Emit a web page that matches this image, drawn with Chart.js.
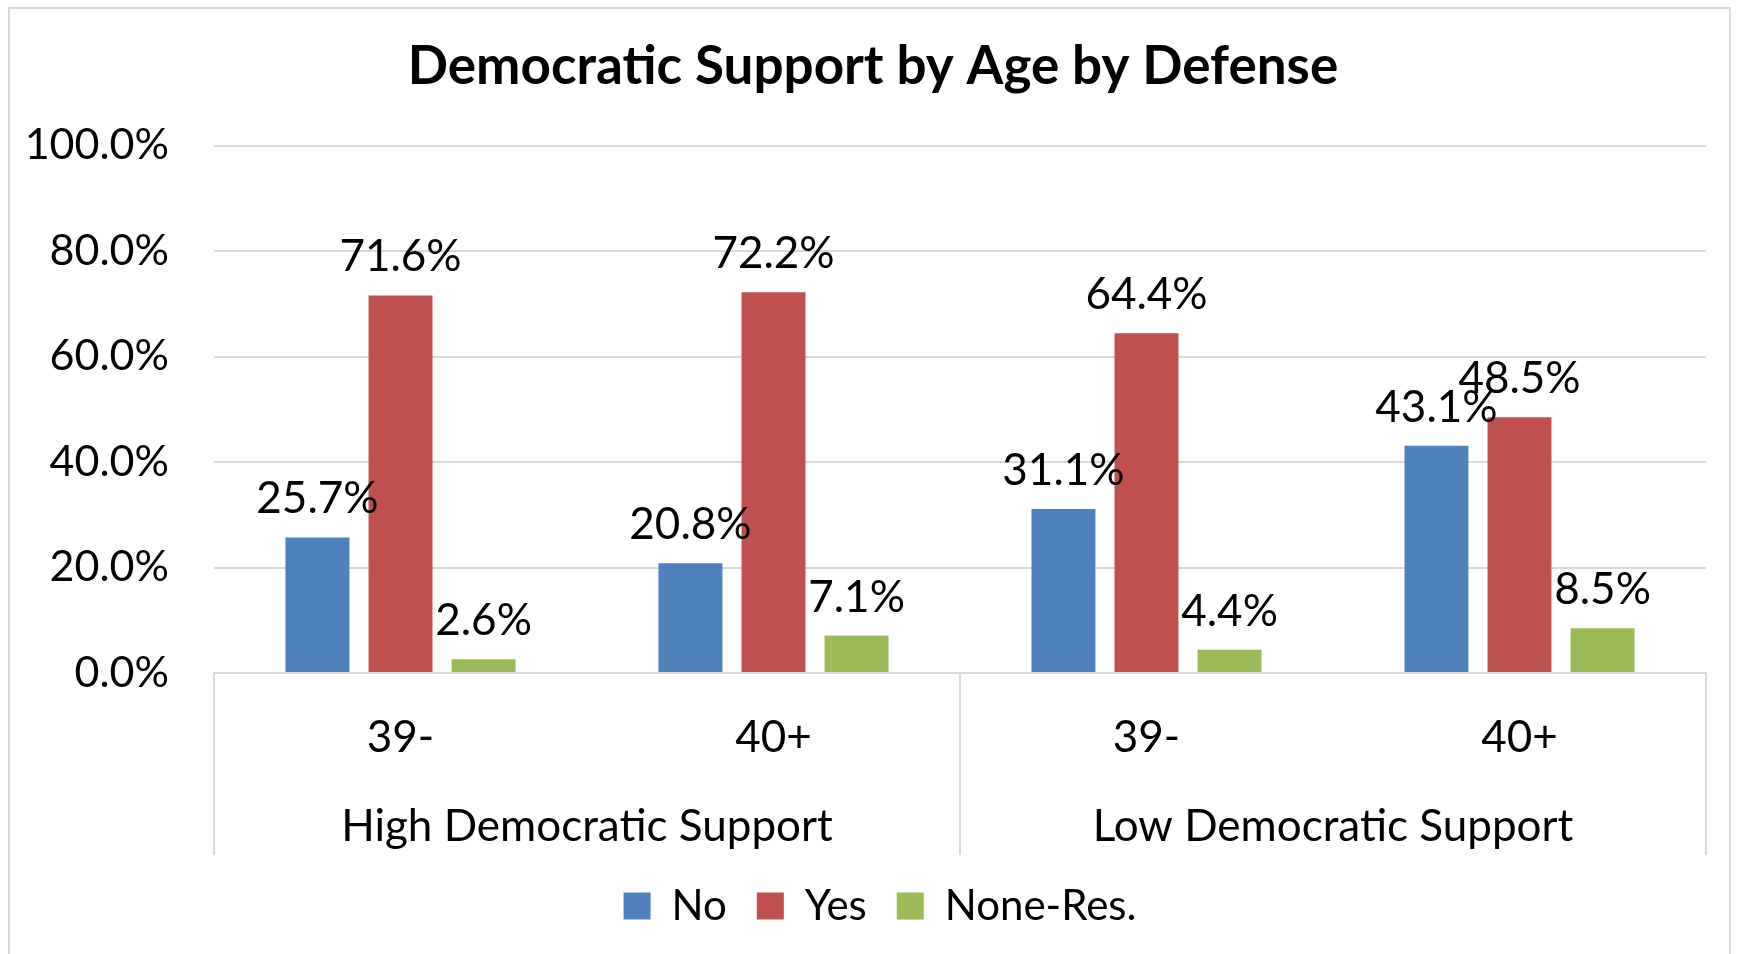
<!DOCTYPE html>
<html>
<head>
<meta charset="UTF-8">
<title>Democratic Support by Age by Defense</title>
<script src="https://cdn.jsdelivr.net/npm/chart.js@4.4.0/dist/chart.umd.min.js"></script>
<style>
  body { margin: 0; background: #ffffff; }
  #wrap { position: relative; width: 1739px; height: 954px; }
</style>
</head>
<body>
<div id="wrap"><canvas id="grafico" width="1739" height="954"></canvas></div>
<script>
// dados
var categorias = ["39-", "40+", "39-", "40+"];
var grupos = ["High Democratic Support", "Low Democratic Support"];
var serieNo = [25.7, 20.8, 31.1, 43.1];
var serieYes = [71.6, 72.2, 64.4, 48.5];
var serieNone = [2.6, 7.1, 4.4, 8.5];
var ticksY = [0, 20, 40, 60, 80, 100];

var fonte = "Lato, 'Open Sans', sans-serif";
var cinza = "#d9d9d9";

// moldura externa e fundo branco
var moldura = {
  id: "moldura",
  beforeDraw: function(chart) {
    var ctx = chart.ctx;
    ctx.save();
    ctx.fillStyle = "#ffffff";
    ctx.fillRect(0, 0, chart.width, chart.height);
    ctx.strokeStyle = cinza;
    ctx.lineWidth = 2;
    ctx.strokeRect(9, 8, chart.width - 18, chart.height + 10);
    ctx.restore();
  }
};

// centraliza título e legenda como no original (eixo Y fica fora da conta)
var centraliza = {
  id: "centraliza",
  afterLayout: function(chart) {
    if (chart.titleBlock) chart.titleBlock.left += 40;
    if (chart.legend) chart.legend.left += 54;
  }
};

// rótulos de valor acima das barras
var rotulos = {
  id: "rotulos",
  afterDatasetsDraw: function(chart) {
    var ctx = chart.ctx;
    ctx.save();
    ctx.font = "44px " + fonte;
    ctx.fillStyle = "#000000";
    ctx.textAlign = "center";
    ctx.textBaseline = "alphabetic";
    chart.data.datasets.forEach(function(ds, i) {
      chart.getDatasetMeta(i).data.forEach(function(bar, j) {
        ctx.fillText(ds.data[j].toFixed(1) + "%", bar.x, bar.y - 24);
      });
    });
    ctx.restore();
  }
};

// eixo de categorias em dois níveis
var eixoGrupos = {
  id: "eixoGrupos",
  afterDraw: function(chart) {
    var ctx = chart.ctx;
    var x = chart.scales.x;
    var area = chart.chartArea;
    var n = categorias.length / grupos.length;
    ctx.save();
    ctx.strokeStyle = cinza;
    ctx.lineWidth = 2;
    var limites = [area.left];
    for (var g = 1; g < grupos.length; g++) {
      limites.push((x.getPixelForValue(g * n - 1) + x.getPixelForValue(g * n)) / 2);
    }
    limites.push(area.right);
    limites.forEach(function(px) {
      ctx.beginPath();
      ctx.moveTo(px, area.bottom);
      ctx.lineTo(px, x.bottom);
      ctx.stroke();
    });
    ctx.font = "44px " + fonte;
    ctx.fillStyle = "#000000";
    ctx.textAlign = "center";
    ctx.textBaseline = "alphabetic";
    for (var k = 0; k < grupos.length; k++) {
      ctx.fillText(grupos[k], (limites[k] + limites[k + 1]) / 2, area.bottom + 168);
    }
    ctx.restore();
  }
};

var ctx = document.getElementById("grafico").getContext("2d");
var grafico = new Chart(ctx, {
  type: "bar",
  data: {
    labels: categorias,
    datasets: [
      { label: "No", data: serieNo, backgroundColor: "#4F81BD" },
      { label: "Yes", data: serieYes, backgroundColor: "#C0504D" },
      { label: "None-Res.", data: serieNone, backgroundColor: "#9BBB59" }
    ]
  },
  options: {
    responsive: false,
    animation: false,
    devicePixelRatio: 1,
    categoryPercentage: 0.668,
    barPercentage: 0.77,
    layout: { padding: { left: 0, right: 33, top: 12, bottom: 17 } },
    scales: {
      x: {
        grid: { display: false, drawTicks: false },
        border: { display: true, color: cinza, width: 2 },
        ticks: { font: { family: fonte, size: 44 }, color: "#000000", padding: 38 },
        afterFit: function(scale) { scale.height = 182; }
      },
      y: {
        min: 0,
        max: 100,
        grid: { color: cinza, lineWidth: 2, drawTicks: false },
        border: { display: false },
        afterBuildTicks: function(scale) {
          scale.ticks = ticksY.map(function(v) { return { value: v }; });
        },
        afterFit: function(scale) { scale.width = 214; },
        ticks: {
          font: { family: fonte, size: 43 },
          color: "#000000",
          padding: 45,
          callback: function(v) { return v.toFixed(1) + "%"; }
        }
      }
    },
    plugins: {
      title: {
        display: true,
        text: "Democratic Support by Age by Defense",
        font: { family: fonte, size: 53, weight: "bold" },
        color: "#000000",
        padding: { top: 23, bottom: 47 }
      },
      legend: {
        position: "bottom",
        labels: {
          font: { family: fonte, size: 42 },
          color: "#000000",
          boxWidth: 27,
          boxHeight: 27,
          padding: 30
        }
      },
      tooltip: { enabled: false }
    }
  },
  plugins: [moldura, centraliza, rotulos, eixoGrupos]
});
</script>
</body>
</html>
